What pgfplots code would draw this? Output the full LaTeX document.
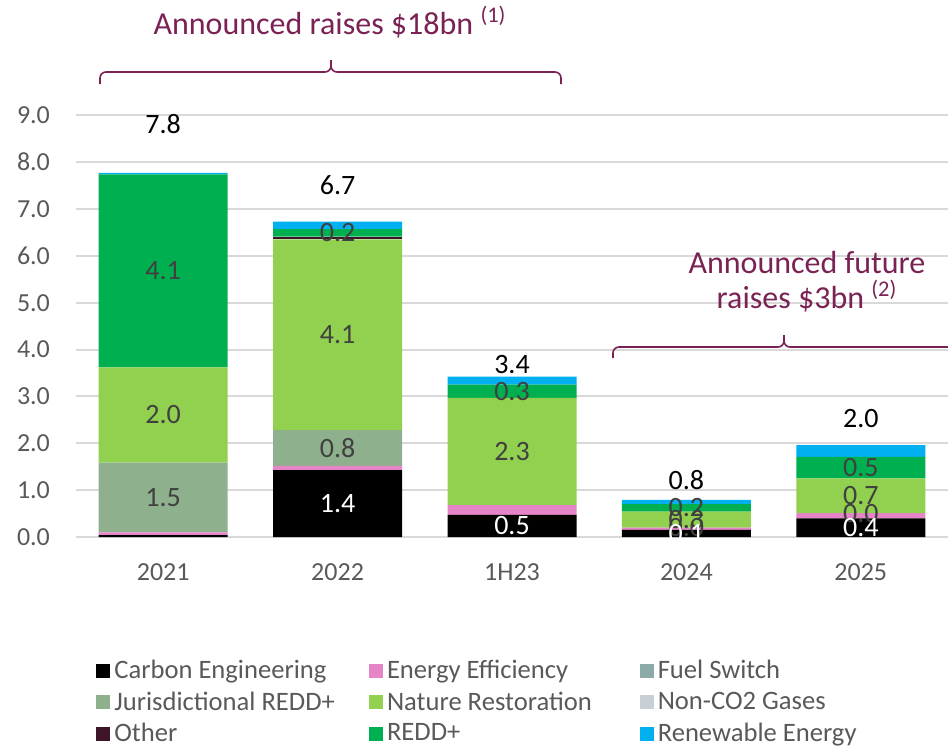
\documentclass[border=0pt]{standalone}
\usepackage{fontspec}
\setmainfont{Carlito}
\usepackage{pgfplots}
\usepackage{pgfplotstable}
\pgfplotsset{compat=1.18}

\definecolor{ceC}{HTML}{000000}
\definecolor{eeC}{HTML}{E584C6}
\definecolor{fsC}{HTML}{8CAAA8}
\definecolor{jrC}{HTML}{8FB08C}
\definecolor{nrC}{HTML}{92D050}
\definecolor{ncC}{HTML}{C8D0D6}
\definecolor{otC}{HTML}{3E1428}
\definecolor{rdC}{HTML}{00B050}
\definecolor{reC}{HTML}{00B0F0}
\definecolor{txt}{HTML}{595959}
\definecolor{lbl}{HTML}{404040}
\definecolor{plum}{HTML}{7A2254}

% segment values ($bn)
\pgfplotstableread{
x ce   ee   fs jr   nr   nc ot   rd   re
0 0.04 0.06 0  1.49 2.03 0  0    4.12 0.03
1 1.43 0.09 0  0.76 4.07 0  0.06 0.16 0.16
2 0.47 0.21 0  0    2.29 0  0    0.28 0.17
3 0.15 0.05 0  0    0.34 0  0    0.16 0.09
4 0.40 0.11 0  0    0.74 0  0    0.46 0.25
}\raises

% data labels: position (segment middle) and text
\pgfplotstableread{
x y     lab
0 0.845 1.5
0 2.605 2.0
0 5.68  4.1
1 1.90  0.8
1 4.315 4.1
1 6.49  0.2
2 1.825 2.3
2 3.11  0.3
3 0.20  0.0
3 0.37  0.3
3 0.62  0.2
4 0.51  0.0
4 0.88  0.7
4 1.48  0.5
}\darklabels
\pgfplotstableread{
x y     lab
1 0.715 1.4
2 0.235 0.5
3 0.075 0.1
4 0.20  0.4
}\whitelabels
\pgfplotstableread{
x y    lab
0 8.81 7.8
1 7.50 6.7
2 3.69 3.4
3 1.21 0.8
4 2.53 2.0
}\totals

\pgfplotsset{
  frame/.style={x=87.2pt, y=23.43pt, xmin=-0.5, xmax=4.5, ymin=0, ymax=9, clip=false},
  lab/.style={only marks, mark=none, point meta=explicit symbolic, nodes near coords,
    every node near coord/.append style={anchor=center, font=\fontsize{14}{16}\selectfont, text=#1}},
}

\begin{document}
\begin{tikzpicture}
\useasboundingbox (-38pt,-104.5pt) rectangle (436pt,268.5pt);
\begin{axis}[
  frame,
  ybar stacked, bar width=64.5pt,
  axis line style={draw=none}, tick style={draw=none},
  ymajorgrids, grid style={color=black!15, line width=1pt},
  ytick={0,1,...,9},
  xtick={0,1,2,3,4}, xticklabels={2021,2022,1H23,2024,2025},
  /pgf/number format/assume math mode=true,
  yticklabel style={/pgf/number format/fixed, /pgf/number format/fixed zerofill,
    /pgf/number format/precision=1, xshift=-9.5pt},
  xticklabel style={yshift=-10pt},
  tick label style={font=\fontsize{13}{15}\selectfont, text=txt},
  legend columns=3,
  legend image code/.code={\fill[#1] (0pt,-3.5pt) rectangle (7pt,3.5pt);},
  legend style={draw=none, fill=none, at={(0.016,-0.272)}, anchor=north west,
    font=\fontsize{13.3}{14.5}\selectfont, text=txt, row sep=1pt,
    /tikz/column 2/.style={column sep=15pt},
    /tikz/column 4/.style={column sep=22pt}},
  legend cell align=left,
]
\addplot[fill=ceC, draw=none] table[x=x,y=ce]{\raises};
\addlegendentry{Carbon Engineering}
\addplot[fill=eeC, draw=none] table[x=x,y=ee]{\raises};
\addlegendentry{Energy Efficiency}
\addplot[fill=fsC, draw=none] table[x=x,y=fs]{\raises};
\addlegendentry{Fuel Switch}
\addplot[fill=jrC, draw=none] table[x=x,y=jr]{\raises};
\addlegendentry{Jurisdictional REDD+}
\addplot[fill=nrC, draw=none] table[x=x,y=nr]{\raises};
\addlegendentry{Nature Restoration}
\addplot[fill=ncC, draw=none] table[x=x,y=nc]{\raises};
\addlegendentry{Non-CO2 Gases}
\addplot[fill=otC, draw=none] table[x=x,y=ot]{\raises};
\addlegendentry{Other}
\addplot[fill=rdC, draw=none] table[x=x,y=rd]{\raises};
\addlegendentry{REDD+}
\addplot[fill=reC, draw=none] table[x=x,y=re]{\raises};
\addlegendentry{Renewable Energy}
\end{axis}

% data labels on a matching overlay axis
\begin{axis}[frame, hide axis]
\addplot[lab=lbl] table[x=x,y=y,meta=lab]{\darklabels};
\addplot[lab=white] table[x=x,y=y,meta=lab]{\whitelabels};
\addplot[lab=black] table[x=x,y=y,meta=lab]{\totals};
\end{axis}

% braces and captions
\draw[plum, line width=0.8pt, rounded corners=3pt] (12pt,226.5pt) -- (12pt,232.5pt) -- (127.5pt,232.5pt) -- (127.5pt,238.5pt);
\draw[plum, line width=0.8pt, rounded corners=3pt] (242.5pt,226.5pt) -- (242.5pt,232.5pt) -- (127.5pt,232.5pt) -- (127.5pt,238.5pt);
\node[plum, font=\fontsize{16}{18}\selectfont] at (127pt,257.5pt) {Announced raises \$18bn \textsuperscript{(1)}};
\draw[plum, line width=0.8pt, rounded corners=3pt] (268.5pt,89.5pt) -- (268.5pt,95pt) -- (354pt,95pt) -- (354pt,101pt);
\draw[plum, line width=0.8pt, rounded corners=3pt] (450pt,95pt) -- (354pt,95pt) -- (354pt,101pt);
\node[plum, align=center, font=\fontsize{16}{17.5}\selectfont] at (365.5pt,127.5pt) {Announced future\\raises \$3bn \textsuperscript{(2)}};
\end{tikzpicture}
\end{document}
